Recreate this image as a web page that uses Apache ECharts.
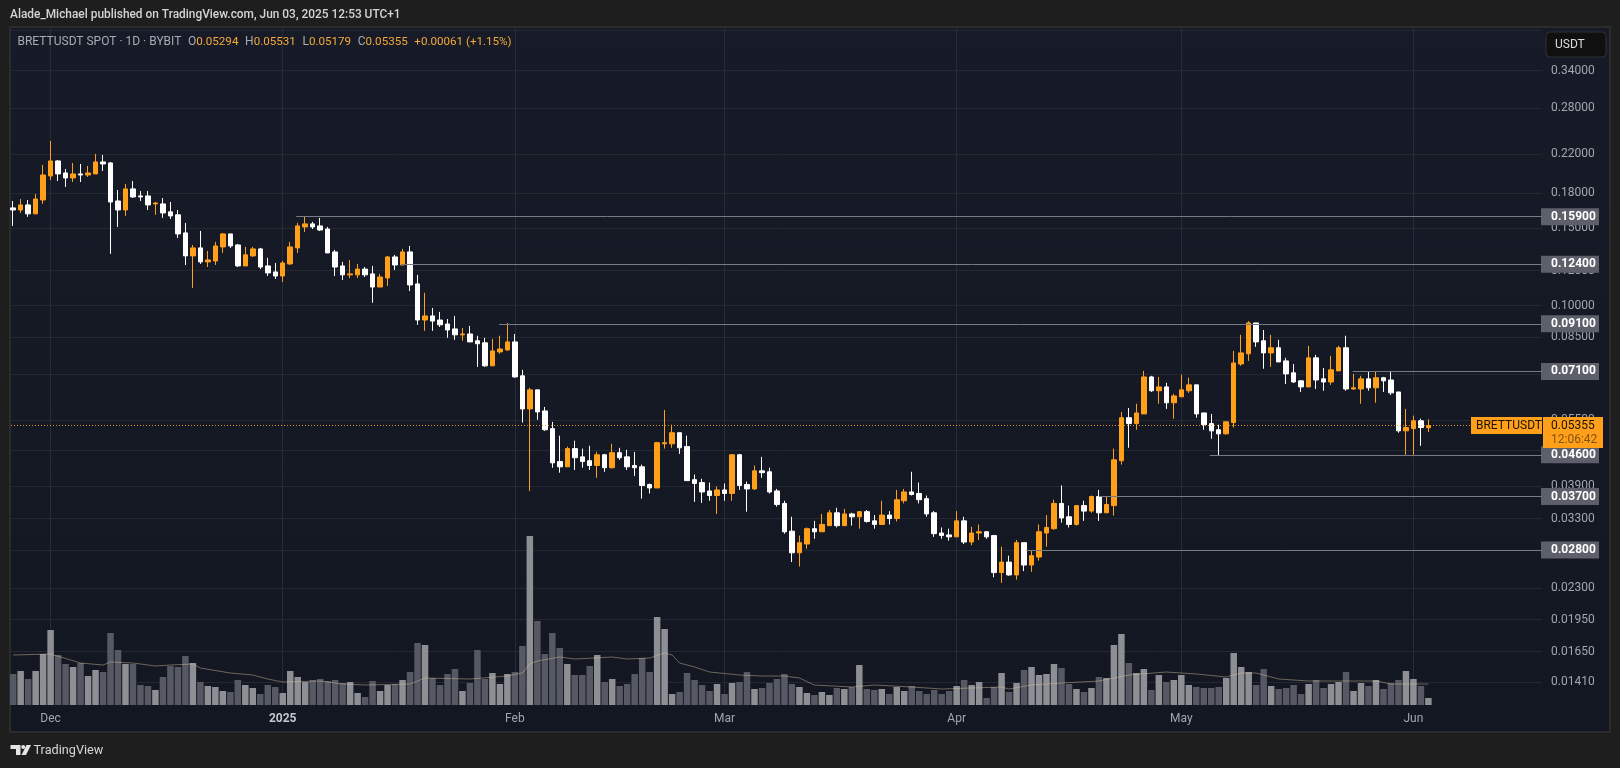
<!DOCTYPE html>
<html>
<head>
<meta charset="utf-8">
<title>BRETTUSDT</title>
<style>
  html, body { margin: 0; padding: 0; background: #1e1e1e; }
  #chart { width: 1620px; height: 768px; }
</style>
<script src="https://cdn.jsdelivr.net/npm/echarts@6/dist/echarts.min.js"></script>
</head>
<body>
<div id="chart"></div>
<script>
// daily bars, Nov 26 2024 to Jun 3 2025
const opens = [
  .1664,.1646,.1690,.1613,.1734,.1965,.2125,.1996,.1945,.1986,
  .1975,.1986,.2114,.2103,.1725,.1646,.1837,.1771,.1771,.1699,
  .1699,.1630,.1605,.1461,.1296,.1351,.1256,.1262,.1358,.1453,
  .1372,.1230,.1296,.1344,.1230,.1192,.1167,.1243,.1351,.1507,
  .1531,.1515,.1491,.1323,.1230,.1174,.1174,.1210,.1180,.1102,
  .1155,.1289,.1236,.1323,.1120,.0928,.0948,.0928,.0909,.0886,
  .0859,.0863,.0833,.0824,.0731,.0786,.0794,.0828,.0694,.0584,
  .0645,.0578,.0527,.0444,.0432,.0475,.0455,.0446,.0435,.0460,
  .0430,.0465,.0455,.0435,.0432,.0394,.0387,.0487,.0487,.0516,
  .0480,.0404,.0398,.0381,.0372,.0383,.0376,.0460,.0394,.0385,
  .0423,.0421,.0381,.0357,.0309,.0276,.0289,.0313,.0308,.0318,
  .0340,.0318,.0338,.0333,.0342,.0326,.0320,.0336,.0330,.0362,
  .0379,.0376,.0366,.0340,.0306,.0303,.0300,.0326,.0292,.0306,
  .0308,.0302,.0249,.0263,.0246,.0291,.0259,.0270,.0306,.0313,
  .0357,.0333,.0320,.0353,.0343,.0370,.0340,.0353,.0446,.0558,
  .0541,.0569,.0690,.0642,.0655,.0603,.0622,.0642,.0662,.0572,
  .0541,.0524,.0513,.0544,.0738,.0778,.0914,.0833,.0782,.0803,
  .0750,.0705,.0676,.0655,.0762,.0683,.0672,.0712,.0803,.0648,
  .0648,.0683,.0652,.0687,.0679,.0638,.0521,.0527,.0549,.05294
];
const closes = [
  .1646,.1690,.1613,.1743,.1975,.2125,.1986,.1945,.1986,.1975,
  .1996,.2114,.2092,.1716,.1646,.1837,.1762,.1762,.1690,.1707,
  .1621,.1596,.1453,.1296,.1351,.1256,.1269,.1365,.1453,.1365,
  .1230,.1303,.1344,.1223,.1186,.1167,.1249,.1358,.1515,.1531,
  .1507,.1483,.1316,.1223,.1174,.1180,.1210,.1174,.1102,.1161,
  .1289,.1236,.1323,.1114,.0928,.0948,.0923,.0905,.0881,.0859,
  .0863,.0828,.0820,.0731,.0790,.0798,.0828,.0690,.0584,.0645,
  .0575,.0524,.0441,.0432,.0475,.0453,.0444,.0435,.0460,.0430,
  .0465,.0453,.0432,.0430,.0392,.0387,.0490,.0490,.0516,.0477,
  .0402,.0396,.0379,.0372,.0383,.0376,.0460,.0392,.0385,.0423,
  .0419,.0379,.0355,.0308,.0276,.0291,.0313,.0308,.0320,.0340,
  .0318,.0338,.0333,.0342,.0325,.0320,.0336,.0330,.0364,.0379,
  .0374,.0364,.0338,.0305,.0302,.0300,.0326,.0292,.0306,.0308,
  .0300,.0249,.0263,.0246,.0291,.0259,.0272,.0308,.0315,.0357,
  .0331,.0320,.0353,.0343,.0370,.0340,.0355,.0448,.0558,.0541,
  .0572,.0690,.0642,.0655,.0603,.0625,.0645,.0662,.0569,.0538,
  .0521,.0513,.0546,.0742,.0782,.0914,.0828,.0782,.0803,.0746,
  .0701,.0672,.0655,.0762,.0679,.0672,.0716,.0803,.0648,.0652,
  .0683,.0652,.0687,.0676,.0635,.0521,.0530,.0549,.0530,.05355
];
const lows = [
  .1515,.1621,.1588,.1613,.1699,.1924,.1914,.1856,.1904,.1904,
  .1955,.1986,.2017,.1310,.1507,.1596,.1752,.1725,.1646,.1605,
  .1580,.1571,.1423,.1236,.1097,.1243,.1223,.1236,.1316,.1351,
  .1223,.1230,.1289,.1210,.1167,.1149,.1131,.1236,.1316,.1468,
  .1491,.1476,.1316,.1167,.1143,.1155,.1155,.1161,.1015,.1102,
  .1108,.1204,.1236,.1079,.0905,.0877,.0877,.0895,.0846,.0837,
  .0833,.0828,.0727,.0727,.0731,.0778,.0790,.0687,.0544,.0381,
  .0552,.0521,.0430,.0419,.0432,.0425,.0430,.0425,.0408,.0421,
  .0428,.0448,.0425,.0412,.0366,.0376,.0387,.0475,.0477,.0462,
  .0402,.0360,.0358,.0362,.0338,.0362,.0362,.0383,.0342,.0383,
  .0408,.0376,.0351,.0305,.0263,.0257,.0282,.0297,.0308,.0318,
  .0315,.0318,.0318,.0313,.0323,.0313,.0320,.0320,.0325,.0357,
  .0372,.0357,.0333,.0300,.0297,.0294,.0300,.0289,.0287,.0295,
  .0297,.0243,.0236,.0245,.0240,.0251,.0250,.0265,.0285,.0311,
  .0323,.0315,.0318,.0326,.0340,.0326,.0340,.0335,.0437,.0477,
  .0524,.0569,.0638,.0600,.0584,.0555,.0622,.0635,.0558,.0524,
  .0500,.0458,.0511,.0530,.0731,.0750,.0807,.0720,.0727,.0746,
  .0665,.0669,.0638,.0655,.0648,.0642,.0662,.0712,.0642,.0645,
  .0600,.0642,.0603,.0638,.0628,.0516,.0460,.0460,.0482,.05179
];
const highs = [
  .1725,.1743,.1734,.1789,.2081,.2358,.2136,.2038,.2103,.2092,
  .2070,.2204,.2192,.2114,.1827,.1885,.1914,.1817,.1817,.1716,
  .1752,.1716,.1646,.1539,.1372,.1476,.1330,.1394,.1461,.1453,
  .1379,.1358,.1358,.1351,.1283,.1249,.1262,.1394,.1539,.1596,
  .1547,.1580,.1507,.1337,.1256,.1269,.1243,.1223,.1230,.1180,
  .1296,.1303,.1344,.1365,.1174,.1069,.0988,.0968,.0933,.0948,
  .0890,.0900,.0855,.0846,.0841,.0855,.0914,.0863,.0716,.0652,
  .0645,.0590,.0546,.0508,.0480,.0495,.0475,.0482,.0467,.0462,
  .0487,.0477,.0472,.0467,.0437,.0396,.0492,.0581,.0538,.0516,
  .0508,.0415,.0406,.0398,.0390,.0396,.0462,.0462,.0400,.0435,
  .0455,.0430,.0385,.0362,.0333,.0302,.0315,.0326,.0338,.0345,
  .0349,.0347,.0340,.0343,.0345,.0336,.0362,.0343,.0383,.0385,
  .0421,.0398,.0372,.0343,.0315,.0313,.0343,.0333,.0316,.0320,
  .0309,.0303,.0285,.0272,.0295,.0291,.0279,.0320,.0336,.0364,
  .0392,.0353,.0353,.0362,.0372,.0383,.0370,.0475,.0575,.0587,
  .0600,.0712,.0694,.0690,.0669,.0632,.0698,.0687,.0662,.0572,
  .0569,.0538,.0546,.0790,.0859,.0923,.0914,.0881,.0859,.0837,
  .0762,.0738,.0679,.0811,.0774,.0723,.0770,.0811,.0855,.0701,
  .0694,.0708,.0708,.0690,.0712,.0638,.0584,.0564,.0555,.05531
];
// relative volume, no scale on the picture
const volumes = [
  31,34,26,34,51,75,50,41,38,42,
  29,35,33,72,55,41,41,20,19,15,
  28,39,38,49,42,23,19,18,14,13,
  25,20,17,11,20,18,12,34,28,23,
  25,26,24,25,22,23,12,8,24,14,
  20,21,25,33,62,60,27,20,31,36,
  14,22,55,26,32,21,31,33,59,169,
  84,51,72,57,41,30,30,39,50,23,
  26,19,21,31,47,33,88,76,11,13,
  32,25,20,14,21,11,22,23,33,16,
  17,22,26,31,21,18,12,10,13,10,
  17,16,18,40,16,15,16,11,18,14,
  19,14,11,15,11,14,19,25,20,23,
  7,18,32,13,22,35,38,30,31,41,
  37,21,16,13,17,28,27,60,71,42,
  32,36,15,30,23,25,30,20,18,17,
  17,18,27,52,38,33,20,36,19,16,
  17,20,11,21,25,17,21,23,33,14,
  22,19,25,16,22,25,34,26,19,7
];
const maBars = [0,5,9,12,13,16,19,21,24,25,29,32,34,36,41,44,47,53,55,61,66,68,69,70,73,75,80,82,85,87,88,89,91,93,97,100,103,105,107,112,115,120,124,132,133,136,140,145,149,154,158,162,164,166,169,173,177,182,184,189];
const maValues = [50,51,42,40,43,42,39,40,41,37,32,30,26,23,24,21,20,21,27,26,29,32,41,44,48,46,48,46,47,52,50,42,38,33,30,29,29,27,20,18,20,18,16,18,16,20,22,24,30,33,31,28,32,32,26,24,24,24,21,21];

const priceTicks = [.42,.34,.28,.22,.18,.15,.12,.10,.085,.07,.055,.047,.039,.033,.028,.023,.0195,.0165,.0141];
const levelPrices = [.159,.124,.091,.071,.046,.037,.028];
const levelStartBars = [37.8,51.8,64.9,178.9,159.8,145,135.3];
const monthBars = [5,36,67,95,126,156,187];
const monthLabels = ['Dec','2025','Feb','Mar','Apr','May','Jun'];

const UP = '#ff9f1a';
const DOWN = '#ffffff';
const GRID = '#242833';
const LEVEL = '#787b86';
const XMIN = -0.29;
const XMAX = 204.17;
const PRICE_TOP = 0.4269;
const PRICE_BOTTOM = 0.012495;
const lastPrice = 0.05355;

// price axis is logarithmic, custom ticks need plain numbers so work in log10
const lg = v => Math.log10(v);

const chart = echarts.init(document.getElementById('chart'));

const priceLabel = v => Math.pow(10, v).toFixed(5);
const monthLabel = v => {
  const label = monthLabels[monthBars.indexOf(Math.round(v))] || '';
  return label === '2025' ? '{y|2025}' : label;
};

const levelLines = levelPrices.map((p, k) => [
  { coord: [levelStartBars[k], lg(p)], lineStyle: { color: LEVEL, type: 'solid', width: 1 } },
  { coord: [XMAX, lg(p)] }
]);
levelLines.push([
  { coord: [XMIN, lg(lastPrice)], lineStyle: { color: UP, type: [1, 2], width: 1, opacity: 0.85 } },
  { coord: [XMAX, lg(lastPrice)] }
]);

const FONT = 'Roboto, sans-serif';

const option = {
  animation: false,
  backgroundColor: '#1e1e1e',
  grid: [
    { left: 11, top: 27, width: 1531, height: 678 },
    { left: 11, top: 535, width: 1531, height: 170 }
  ],
  xAxis: [
    {
      type: 'value', gridIndex: 0, min: XMIN, max: XMAX,
      axisLine: { show: false },
      axisTick: { show: false, customValues: monthBars },
      splitLine: { show: true, lineStyle: { color: '#282c38', width: 1 } },
      axisLabel: {
        customValues: monthBars, formatter: monthLabel, margin: 8,
        color: '#a3a6af', fontSize: 12, fontFamily: FONT,
        rich: { y: { color: '#c4c6cd', fontSize: 12, fontWeight: 'bold', fontFamily: FONT } }
      }
    },
    { type: 'value', gridIndex: 1, min: XMIN, max: XMAX, show: false }
  ],
  yAxis: [
    {
      type: 'value', gridIndex: 0, position: 'right', min: lg(PRICE_BOTTOM), max: lg(PRICE_TOP),
      axisLine: { show: false },
      axisTick: { show: false, customValues: priceTicks.map(lg) },
      splitLine: { show: true, lineStyle: { color: GRID, width: 1 } },
      axisLabel: {
        customValues: priceTicks.map(lg),
        formatter: v => (v > lg(0.4) ? '' : priceLabel(v)),
        margin: 9, color: '#a3a6af', fontSize: 12, fontFamily: FONT
      }
    },
    {
      // white boxes for the drawn levels
      type: 'value', gridIndex: 0, position: 'right', min: lg(PRICE_BOTTOM), max: lg(PRICE_TOP),
      axisLine: { show: false },
      axisTick: { show: false, customValues: levelPrices.map(lg) },
      splitLine: { show: false },
      axisLabel: {
        customValues: levelPrices.map(lg), formatter: priceLabel,
        margin: -1, color: '#ffffff', fontSize: 12, fontWeight: 'bold', fontFamily: FONT,
        backgroundColor: '#5d606b', padding: [3, 6, 2, 10], lineHeight: 12, width: 42
      }
    },
    { type: 'value', gridIndex: 1, min: 0, max: 170, show: false }
  ],
  series: [
    {
      name: 'levels', type: 'line', xAxisIndex: 0, yAxisIndex: 0, data: [], z: 1, silent: true,
      markLine: {
        silent: true, symbol: 'none', animation: false, label: { show: false },
        data: levelLines
      }
    },
    {
      name: 'Volume', type: 'bar', xAxisIndex: 1, yAxisIndex: 2, barWidth: 6.5, z: 2,
      data: volumes.map((v, i) => [i, v]),
      itemStyle: { color: p => (closes[p.dataIndex] >= opens[p.dataIndex] ? '#8e8f94' : '#565963') }
    },
    {
      name: 'Volume MA', type: 'line', xAxisIndex: 1, yAxisIndex: 2, z: 3,
      showSymbol: false, silent: true,
      data: maBars.map((b, i) => [b, maValues[i]]),
      lineStyle: { color: 'rgba(214,196,160,0.45)', width: 1 }
    },
    {
      name: 'BRETTUSDT', type: 'candlestick', xAxisIndex: 0, yAxisIndex: 0, barWidth: 5, z: 4,
      encode: { x: 0, y: [1, 2, 3, 4] },
      data: opens.map((o, i) => [i, lg(o), lg(closes[i]), lg(lows[i]), lg(highs[i])]),
      itemStyle: { color: UP, color0: DOWN, borderColor: UP, borderColor0: DOWN, borderWidth: 1 }
    }
  ],
  graphic: [
    {
      type: 'rect', z: -1, silent: true,
      shape: { x: 10, y: 27, width: 1600, height: 705 },
      style: {
        fill: new echarts.graphic.LinearGradient(0, 0, 0, 1, [
          { offset: 0, color: '#171b27' }, { offset: 1, color: '#131722' }
        ]),
        stroke: '#2b2b2b', lineWidth: 2
      }
    },
    {
      type: 'text', z: 100, x: 10, y: 15,
      style: {
        text: 'Alade_Michael published on TradingView.com, Jun 03, 2025 12:53 UTC+1',
        fill: '#d4d4d4', font: '500 11.9px ' + FONT, verticalAlign: 'middle'
      }
    },
    {
      type: 'text', z: 100, x: 17.5, y: 42,
      style: {
        text: '{n|BRETTUSDT SPOT · 1D · BYBIT}  {n|O}{v|' + opens[189].toFixed(5) + '}  {n|H}{v|' + highs[189].toFixed(5) +
          '}  {n|L}{v|' + lows[189].toFixed(5) + '}  {n|C}{v|' + closes[189].toFixed(5) + '}  {v|+0.00061 (+1.15%)}',
        verticalAlign: 'middle',
        rich: {
          n: { fill: '#a8abb4', font: '12px ' + FONT },
          v: { fill: '#f5a93a', font: '11.6px ' + FONT }
        }
      }
    },
    {
      type: 'rect', z: 100,
      shape: { x: 1546, y: 32, width: 60, height: 25, r: 4 },
      style: { fill: '#101010', stroke: '#303136', lineWidth: 1 }
    },
    {
      type: 'text', z: 101, x: 1555, y: 44.5,
      style: { text: 'USDT', fill: '#dcdcdc', font: '12px ' + FONT, verticalAlign: 'middle' }
    },
    // price tag
    {
      type: 'rect', z: 100,
      shape: { x: 1471, y: 417, width: 71, height: 17 },
      style: { fill: UP }
    },
    {
      type: 'text', z: 101, x: 1476, y: 425.5,
      style: { text: 'BRETTUSDT', fill: '#1a1405', font: '12px ' + FONT, verticalAlign: 'middle' }
    },
    {
      type: 'rect', z: 100,
      shape: { x: 1543, y: 417, width: 60, height: 31 },
      style: { fill: UP }
    },
    {
      type: 'text', z: 101, x: 1551, y: 425.5,
      style: { text: lastPrice.toFixed(5), fill: '#1a1405', font: '12px ' + FONT, verticalAlign: 'middle' }
    },
    {
      type: 'text', z: 101, x: 1551, y: 439.5,
      style: { text: '12:06:42', fill: '#80540f', font: '12px ' + FONT, verticalAlign: 'middle' }
    },
    // footer logo
    { type: 'polygon', z: 100, shape: { points: [[10.5, 745], [20.5, 745], [20.5, 755], [16, 755], [16, 749], [10.5, 749]] }, style: { fill: '#e4e4e4' } },
    { type: 'circle', z: 100, shape: { cx: 23.2, cy: 747, r: 2 }, style: { fill: '#e4e4e4' } },
    { type: 'polygon', z: 100, shape: { points: [[26.5, 745], [31, 745], [26, 755], [21.5, 755]] }, style: { fill: '#e4e4e4' } },
    {
      type: 'text', z: 100, x: 33.5, y: 751,
      style: { text: 'TradingView', fill: '#d8d8d8', font: '12.7px ' + FONT, verticalAlign: 'middle' }
    }
  ]
};

chart.setOption(option);

window.addEventListener('resize', () => {
  chart.resize();
});
</script>
</body>
</html>
